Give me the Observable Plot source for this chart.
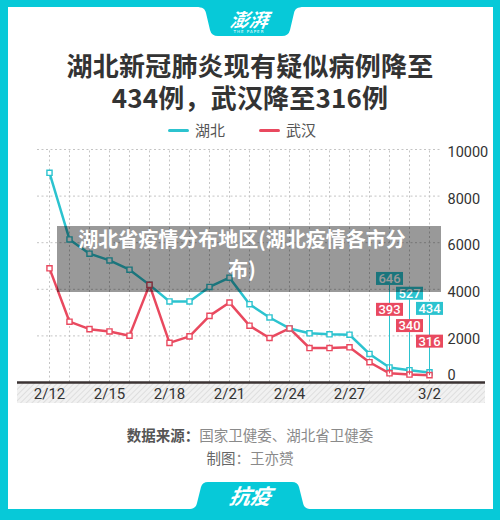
<!DOCTYPE html>
<html>
<head>
<meta charset="utf-8">
<script src="https://cdn.jsdelivr.net/npm/d3@7"></script>
<script src="https://cdn.jsdelivr.net/npm/@observablehq/plot@0.6"></script>
<style>
  html, body { margin: 0; padding: 0; background: #fff; }
  #page { position: relative; width: 500px; height: 520px; background: #07c9d8; overflow: hidden;
          font-family: "Noto Sans CJK SC", "Noto Sans", sans-serif; }
  #card { position: absolute; left: 8px; top: 7px; width: 485px; height: 502px; background: #fff; }
  .abs { position: absolute; }
  .title { left: 0; width: 500px; text-align: center; font-size: 26px; line-height: 30px; height: 30px;
           color: #333; font-weight: 700; letter-spacing: 0.2px; white-space: nowrap; }
  .leg { font-size: 15px; color: #555; line-height: 20px; }
  .legline { height: 3.5px; width: 21px; border-radius: 2px; }
  #chart { left: 0; top: 140px; width: 500px; }
  #overlay { left: 57px; top: 226px; width: 384px; height: 66px; background: rgba(0,0,0,0.4); }
  .ovt { left: 47px; width: 390px; text-align: center; color: #fff; font-weight: 700;
         font-size: 20px; line-height: 28px; height: 28px; white-space: nowrap; }
  .src { left: 0; width: 500px; text-align: center; font-size: 14.5px; color: #8a8a8a; line-height: 20px; height: 20px; }
  .src b { color: #555; font-weight: 700; }
</style>
</head>
<body>
<svg width="0" height="0" style="position:absolute">
  <defs>
    <pattern id="hatch" width="4" height="4" patternUnits="userSpaceOnUse" patternTransform="rotate(45)">
      <rect width="4" height="4" fill="#f1f1f1"></rect>
      <line x1="0" y1="0" x2="0" y2="4" stroke="#d9d9d9" stroke-width="1.6"></line>
    </pattern>
  </defs>
</svg>
<div id="page">
  <div id="card"></div>
  <svg class="abs" style="left:0;top:0" width="500" height="520">
    <path d="M196,7 C203,7 205,9 206,13 L210,30 Q211.5,36 218,36 L282,36 Q288.5,36 290,30 L294,13 C295,9 297,7 304,7 Z" fill="#07c9d8"></path>
    <text x="249" y="27" text-anchor="middle" fill="#fff" font-size="19" font-style="italic" font-weight="700"
          font-family="Noto Sans CJK SC" transform="skewX(-8) translate(3,0)">澎湃</text>
    <text x="249" y="33" text-anchor="middle" fill="#fff" font-size="4" letter-spacing="1" font-family="DejaVu Sans">THE PAPER</text>
    <path d="M188,509 C194,509 196,507 197,503 L201,487 Q202.5,482 208,482 L292,482 Q297.5,482 299,487 L303,503 C304,507 306,509 312,509 Z" fill="#07c9d8"></path>
    <text x="250" y="504" text-anchor="middle" fill="#fff" font-size="21" font-style="italic" font-weight="700"
          font-family="Noto Sans CJK SC" transform="skewX(-10) translate(88,0)">抗疫</text>
  </svg>
  <div class="abs title" style="top:50px">湖北新冠肺炎现有疑似病例降至</div>
  <div class="abs title" style="top:82px">434例，武汉降至316例</div>
  <div class="abs legline" style="left:168px;top:128.5px;background:#2cc3cf"></div>
  <div class="abs leg" style="left:195px;top:120px">湖北</div>
  <div class="abs legline" style="left:259px;top:128.5px;background:#e9495f"></div>
  <div class="abs leg" style="left:286px;top:120px">武汉</div>
  <div id="chart" class="abs"></div>
  <div id="overlay" class="abs"></div>
  <div class="abs ovt" style="top:225px">湖北省疫情分布地区(湖北疫情各市分</div>
  <div class="abs ovt" style="top:255px">布)</div>
  <div class="abs src" style="top:425px"><b>数据来源：</b>国家卫健委、湖北省卫健委</div>
  <div class="abs src" style="top:448px"><span style="color:#666">制图</span>：王亦赟</div>
</div>
<script>
// ---- data ----
const dates = ["2/12","2/13","2/14","2/15","2/16","2/17","2/18","2/19","2/20","2/21",
               "2/22","2/23","2/24","2/25","2/26","2/27","2/28","2/29","3/1","3/2"];
const hubei = [9000, 6140, 5530, 5240, 4840, 4190, 3480, 3480, 4100, 4500,
               3360, 2790, 2320, 2110, 2070, 2050, 1225, 646, 527, 434];
const wuhan = [4900, 2610, 2290, 2190, 2010, 4190, 1700, 1980, 2860, 3430,
               2440, 1910, 2320, 1480, 1480, 1510, 870, 393, 340, 316];
const seriesNames = ["湖北", "武汉"];
const xLabels = ["2/12","2/15","2/18","2/21","2/24","2/27","3/2"];
const yTicks = [0, 2000, 4000, 6000, 8000, 10000];
const labelDates = ["2/29","3/1","3/2"];

// ---- styles ----
const CYAN = "#2cc3cf", RED = "#e9495f";
const rows = [
  ...dates.map((d, i) => ({date: d, value: hubei[i], series: seriesNames[0]})),
  ...dates.map((d, i) => ({date: d, value: wuhan[i], series: seriesNames[1]}))
];

const rectSym = (w, h) => ({draw(ctx) { ctx.rect(-w / 2, -h / 2, w, h); }});
const vline = (len) => ({draw(ctx) { ctx.moveTo(0, 0); ctx.lineTo(0, -len); }});

// label lifts (px above the point) for the end-of-series callouts
const lifts = {"湖北": [89, 77, 64], "武汉": [64, 49, 34]};
const colors = {"湖北": CYAN, "武汉": RED};

const labelMarks = [];
for (const s of ["武汉", "湖北"]) {
  labelDates.forEach((d, k) => {
    const row = rows.filter(r => r.series === s && r.date === d);
    const lift = lifts[s][k];
    labelMarks.push(Plot.dot(row, {x: "date", y: "value", symbol: vline(lift - 6), r: 1,
      stroke: colors[s], strokeWidth: 1, fill: "none"}));
  });
}
for (const s of ["武汉", "湖北"]) {
  labelDates.forEach((d, k) => {
    const row = rows.filter(r => r.series === s && r.date === d);
    const lift = lifts[s][k];
    labelMarks.push(Plot.dot(row, {x: "date", y: "value", symbol: rectSym(27, 13), r: 1,
      fill: colors[s], stroke: "none", dy: -lift}));
    labelMarks.push(Plot.text(row, {x: "date", y: "value", text: r => String(r.value), dy: -lift + 0.5,
      fill: "#fff", fontSize: 13, fontWeight: 500, fontFamily: "Roboto", letterSpacing: 0.3}));
  });
}

const chart = Plot.plot({
  width: 500,
  height: 270,
  marginLeft: 37,
  marginRight: 59,
  marginTop: 9,
  marginBottom: 28,
  style: {background: "transparent", fontFamily: "Roboto, 'Noto Sans', sans-serif", overflow: "visible"},
  x: {type: "point", domain: dates, padding: 0.5, axis: null, label: null},
  y: {domain: [0, 10000], axis: null, label: null},
  color: {domain: seriesNames, range: [CYAN, RED]},
  marks: [
    Plot.rect([0], {y1: 0, y2: 0, insetBottom: -21, insetLeft: -20, insetRight: -44, fill: "url(#hatch)"}),
    Plot.gridY({ticks: yTicks.filter(t => t > 0), stroke: "#c4c4c4", strokeOpacity: 1, strokeDasharray: "2,2.5"}),
    Plot.gridX({stroke: "#c4c4c4", strokeOpacity: 1, strokeDasharray: "2,2.5", y1: 0, y2: 10000}),
    Plot.ruleY([0], {stroke: "#3b3333", strokeWidth: 2.5, insetLeft: -20, insetRight: -44}),
    Plot.axisX({ticks: xLabels, tickSize: 0, tickPadding: 6, fontSize: 15, fill: "#333", label: null}),
    Plot.axisY({ticks: yTicks.filter(t => t > 0), anchor: "right", tickSize: 0, tickPadding: 6, dy: 3,
      fontSize: 14.5, fill: "#333", tickFormat: d => String(d), label: null}),
    Plot.axisY({ticks: [0], anchor: "right", tickSize: 0, tickPadding: 6, dy: -7,
      fontSize: 14.5, fill: "#333", tickFormat: d => String(d), label: null}),
    Plot.line(rows, {x: "date", y: "value", stroke: "series", z: "series", strokeWidth: 2.5}),
    Plot.dot(rows, {x: "date", y: "value", stroke: "series", symbol: "square", r: 2.9, fill: "#fff", strokeWidth: 1.4}),
    ...labelMarks
  ]
});
document.getElementById("chart").appendChild(chart);
</script>
</body>
</html>
